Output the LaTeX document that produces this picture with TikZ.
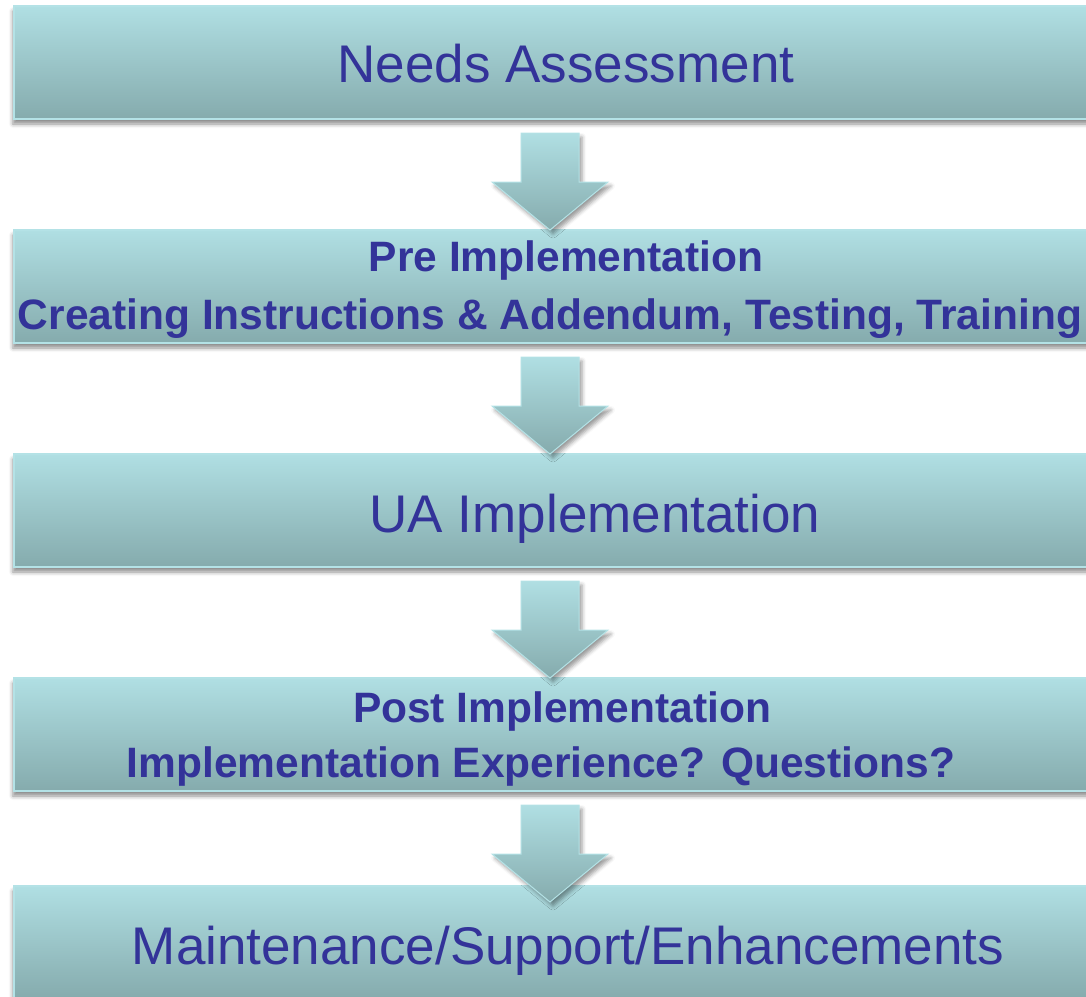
\documentclass[tikz,border=0pt]{standalone}
\usepackage{fontspec}
\setmainfont{Liberation Sans}
\usetikzlibrary{shadows.blur,calc}
\definecolor{boxtop}{HTML}{B0DFE3}
\definecolor{boxbot}{HTML}{85ABAD}
\definecolor{boxedge}{HTML}{B4E2E6}
\definecolor{txt}{HTML}{333399}
\tikzset{
  stagebox/.style={rectangle, anchor=north west, minimum width=1100pt, minimum height=113pt,
    top color=boxtop, bottom color=boxbot, draw=boxedge, line width=2pt,
    blur shadow={shadow xshift=-1pt, shadow yshift=-5pt, shadow blur radius=4pt, shadow opacity=45}},
  downarrow/.style={top color=boxtop, bottom color=boxbot, draw=boxedge, line width=1pt,
    blur shadow={shadow xshift=3pt, shadow yshift=-4pt, shadow blur radius=4pt, shadow opacity=40}},
  bigtext/.style={anchor=base, text=txt, font=\fontsize{53}{60}\selectfont, inner sep=0pt},
  boldtext/.style={anchor=base, text=txt, font=\fontsize{42.5}{48}\selectfont\bfseries, inner sep=0pt},
}
\begin{document}
\begin{tikzpicture}[x=1pt,y=-1pt]
\useasboundingbox (0,0) rectangle (1086,996);
\clip (0,0) rectangle (1086,996);
% boxes
\node[stagebox] (b1) at (13,5) {};
\node[stagebox] (b2) at (13,229) {};
\node[stagebox] (b3) at (13,453) {};
\node[stagebox] (b4) at (13,677) {};
\node[stagebox] (b5) at (13,885) {};
% texts
\node[bigtext] (t1) at (566,82) {Needs Assessment};
\node[boldtext] (t2a) at (566,271) {Pre Implementation};
\node[boldtext] (t2b) at (550,329) {Creating Instructions \& Addendum, Testing, Training};
\node[bigtext] (t3) at (595,532) {UA Implementation};
\node[boldtext] (t4a) at (562,722) {Post Implementation};
\node[boldtext] (t4b) at (541,777) {Implementation Experience? Questions?};
\node[bigtext] (t5) at (568,964) {Maintenance/Support/Enhancements};
% arrows
\coordinate (a1) at (550,133);
\coordinate (a2) at (550,357);
\coordinate (a3) at (550,581);
\coordinate (a4) at (550,805);
\foreach \a in {a1,a2,a3,a4}{
  \draw[downarrow, shift={(\a)}] (-29,0) -- (29,0) -- (29,49) -- (58,49) -- (0,97) -- (-58,49) -- (-29,49) -- cycle;
}
\end{tikzpicture}
\end{document}
